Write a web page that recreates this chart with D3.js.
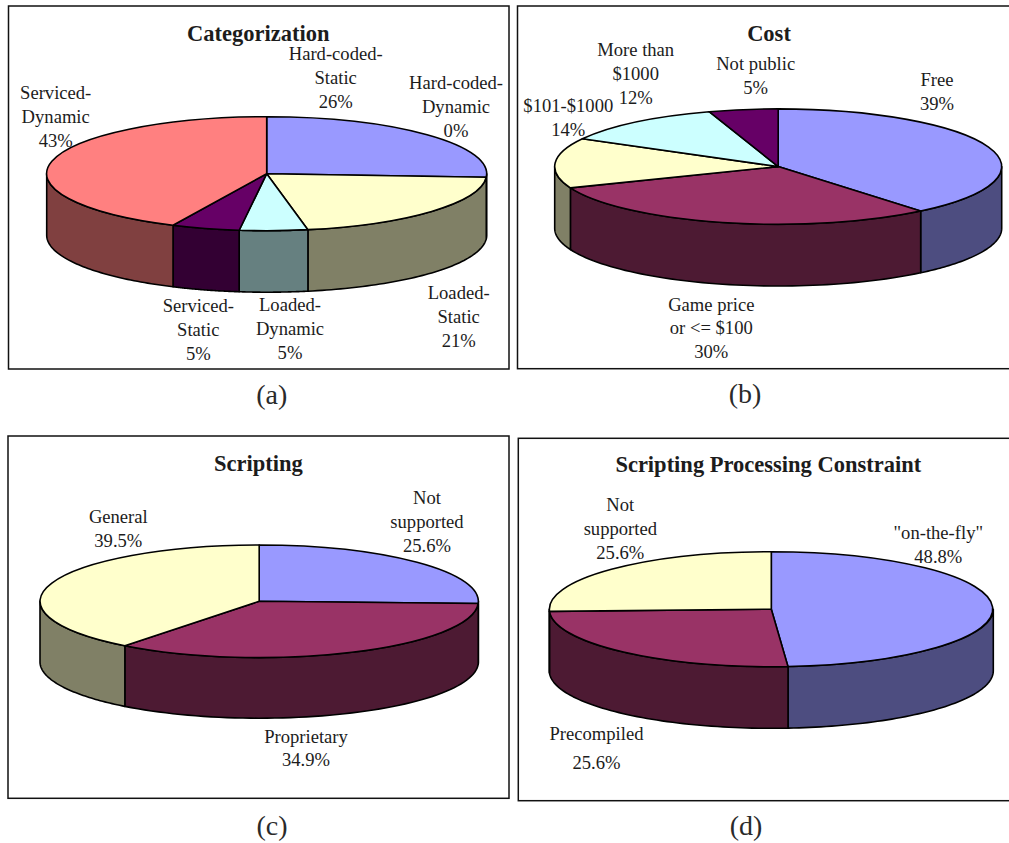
<!DOCTYPE html>
<html>
<head>
<meta charset="utf-8">
<title>Game engine survey pies</title>
<script src="https://cdn.jsdelivr.net/npm/d3@7/dist/d3.min.js"></script>
<style>
  html, body { margin: 0; padding: 0; background: #fff; overflow: hidden; }
  svg { display: block; }
  text { font-family: "Liberation Serif", "Times New Roman", serif; fill: #1c1c1c; text-anchor: middle; }
</style>
</head>
<body>
<svg id="chart" width="1009" height="843"></svg>
<script>
// Slice colours shared by every pie, in series order; wall colours are the same hue at half brightness.
const sliceColours = ["#9999FF", "#993366", "#FFFFCC", "#CCFFFF", "#660066", "#FF8080"];

// Categorization
const categorizationNames = ["Hard-coded-Static", "Hard-coded-Dynamic", "Loaded-Static", "Loaded-Dynamic", "Serviced-Static", "Serviced-Dynamic"];
const categorizationValues = [26, 0, 21, 5, 5, 43];
const categorizationColours = [0, 1, 2, 3, 4, 5];

// Cost
const costNames = ["Free", "Game price or <= $100", "$101-$1000", "More than $1000", "Not public"];
const costValues = [39, 30, 14, 12, 5];
const costColours = [0, 1, 2, 3, 4];

// Scripting
const scriptingNames = ["Not supported", "Proprietary", "General"];
const scriptingValues = [25.6, 34.9, 39.5];
const scriptingColours = [0, 1, 2];

// Scripting processing constraint
const constraintNames = ["\"on-the-fly\"", "Precompiled", "Not supported"];
const constraintValues = [48.8, 25.6, 25.6];
const constraintColours = [0, 1, 2];

// Text of each callout, one entry per line, in the same order as the values above.
const categorizationLabels = [["Hard-coded-", "Static", "26%"], ["Hard-coded-", "Dynamic", "0%"], ["Loaded-", "Static", "21%"], ["Loaded-", "Dynamic", "5%"], ["Serviced-", "Static", "5%"], ["Serviced-", "Dynamic", "43%"]];
const costLabels = [["Free", "39%"], ["Game price", "or <= $100", "30%"], ["$101-$1000", "14%"], ["More than", "$1000", "12%"], ["Not public", "5%"]];
const scriptingLabels = [["Not", "supported", "25.6%"], ["Proprietary", "34.9%"], ["General", "39.5%"]];
const constraintLabels = [["\"on-the-fly\"", "48.8%"], ["Precompiled", "", "25.6%"], ["Not", "supported", "25.6%"]];

// Panel layout: frame box, pie ellipse and the placement of each callout (centre x, first baseline, line step).
const panels = [
  { title: "Categorization", caption: "(a)", values: categorizationValues, colours: categorizationColours, labels: categorizationLabels,
    frame: [8.5, 6, 500.5, 363], pie: { cx: 266.7, cy: 173.7, rx: 220, ry: 57, depth: 61.5 },
    titleAt: [258.3, 40.7], captionAt: [271.7, 404],
    anchors: [[335.7, 60, 24], [456, 89, 23.8], [458.7, 299.3, 24], [290, 311, 24], [198.3, 312, 24], [55.7, 99, 24]] },
  { title: "Cost", caption: "(b)", values: costValues, colours: costColours, labels: costLabels,
    frame: [517.5, 6, 520, 362.7], pie: { cx: 778.2, cy: 166.6, rx: 223.5, ry: 57.7, depth: 61.7 },
    titleAt: [769, 40.7], captionAt: [745, 403],
    anchors: [[937, 86, 24], [711.3, 310.7, 23.7], [568.3, 111.7, 24], [635.7, 56, 24], [755.7, 70, 24]] },
  { title: "Scripting", caption: "(c)", values: scriptingValues, colours: scriptingColours, labels: scriptingLabels,
    frame: [8, 436, 501, 362.3], pie: { cx: 259.2, cy: 601.3, rx: 219.2, ry: 56.3, depth: 60.6 },
    titleAt: [258.3, 470.7], captionAt: [272, 835],
    anchors: [[427, 504.3, 24], [306, 742.7, 23.5], [118.3, 523.3, 24]] },
  { title: "Scripting Processing Constraint", caption: "(d)", values: constraintValues, colours: constraintColours, labels: constraintLabels,
    frame: [518.3, 438.3, 520, 362.4], pie: { cx: 771.3, cy: 609.2, rx: 222, ry: 57.5, depth: 61.6 },
    titleAt: [768.3, 472.3], captionAt: [746, 835],
    anchors: [[938.3, 539.3, 23.7], [596.5, 740, 14.5], [620.3, 511, 24]] }
];

const svg = d3.select("#chart");
const pieLayout = d3.pie().sort(null).startAngle(0).endAngle(2 * Math.PI);
const unitArc = d3.arc().innerRadius(0).outerRadius(1);
const outline = d3.line();

// Half brightness version of a slice colour, used for the extruded wall.
const wallColour = c => {
  const rgb = d3.rgb(c);
  return d3.rgb(rgb.r / 2, rgb.g / 2, rgb.b / 2).formatHex();
};

// Outline of the wall under a slice: only the part of the rim facing the viewer (90 to 270 degrees clockwise from north).
function wallPath(d, p) {
  const a0 = Math.max(d.startAngle, Math.PI / 2);
  const a1 = Math.min(d.endAngle, 3 * Math.PI / 2);
  if (a1 <= a0) return null;
  const steps = d3.range(0, 61).map(i => a0 + (a1 - a0) * i / 60);
  const rim = steps.map(a => [p.cx + p.rx * Math.sin(a), p.cy - p.ry * Math.cos(a)]);
  const base = rim.map(([x, y]) => [x, y + p.depth]).reverse();
  return outline(rim.concat(base)) + "Z";
}

panels.forEach(panel => {
  const g = svg.append("g");
  const [fx, fy, fw, fh] = panel.frame;
  g.append("rect").attr("x", fx).attr("y", fy).attr("width", fw).attr("height", fh)
    .attr("fill", "#fff").attr("stroke", "#111").attr("stroke-width", 1.5);

  const arcs = pieLayout(panel.values);
  const p = panel.pie;

  g.selectAll("path.wall").data(arcs.filter(d => d.value > 0)).join("path")
    .attr("class", "wall")
    .attr("d", d => wallPath(d, p))
    .attr("fill", d => wallColour(sliceColours[panel.colours[d.index]]))
    .attr("stroke", "#000").attr("stroke-width", 1.6).attr("stroke-linejoin", "round");

  // Each top face is a unit d3.arc sector squashed into the pie's ellipse.
  g.append("g").attr("transform", `translate(${p.cx},${p.cy}) scale(${p.rx},${p.ry})`)
    .selectAll("path.top").data(arcs.filter(d => d.value > 0)).join("path")
    .attr("class", "top")
    .attr("d", unitArc)
    .attr("fill", d => sliceColours[panel.colours[d.index]])
    .attr("stroke", "#000").attr("stroke-width", 1.6).attr("stroke-linejoin", "round")
    .attr("vector-effect", "non-scaling-stroke");

  g.append("text").attr("x", panel.titleAt[0]).attr("y", panel.titleAt[1])
    .attr("font-size", 22.5).attr("font-weight", "bold").text(panel.title);

  panel.labels.forEach((lines, i) => {
    const [x, y, step] = panel.anchors[i];
    const t = g.append("text").attr("font-size", 18.6);
    lines.forEach((line, j) => {
      if (line) t.append("tspan").attr("x", x).attr("y", y + j * step).text(line);
    });
  });

  g.append("text").attr("x", panel.captionAt[0]).attr("y", panel.captionAt[1])
    .style("fill", "#2a2a2a")
    .attr("font-size", 28).text(panel.caption);
});
</script>
</body>
</html>
